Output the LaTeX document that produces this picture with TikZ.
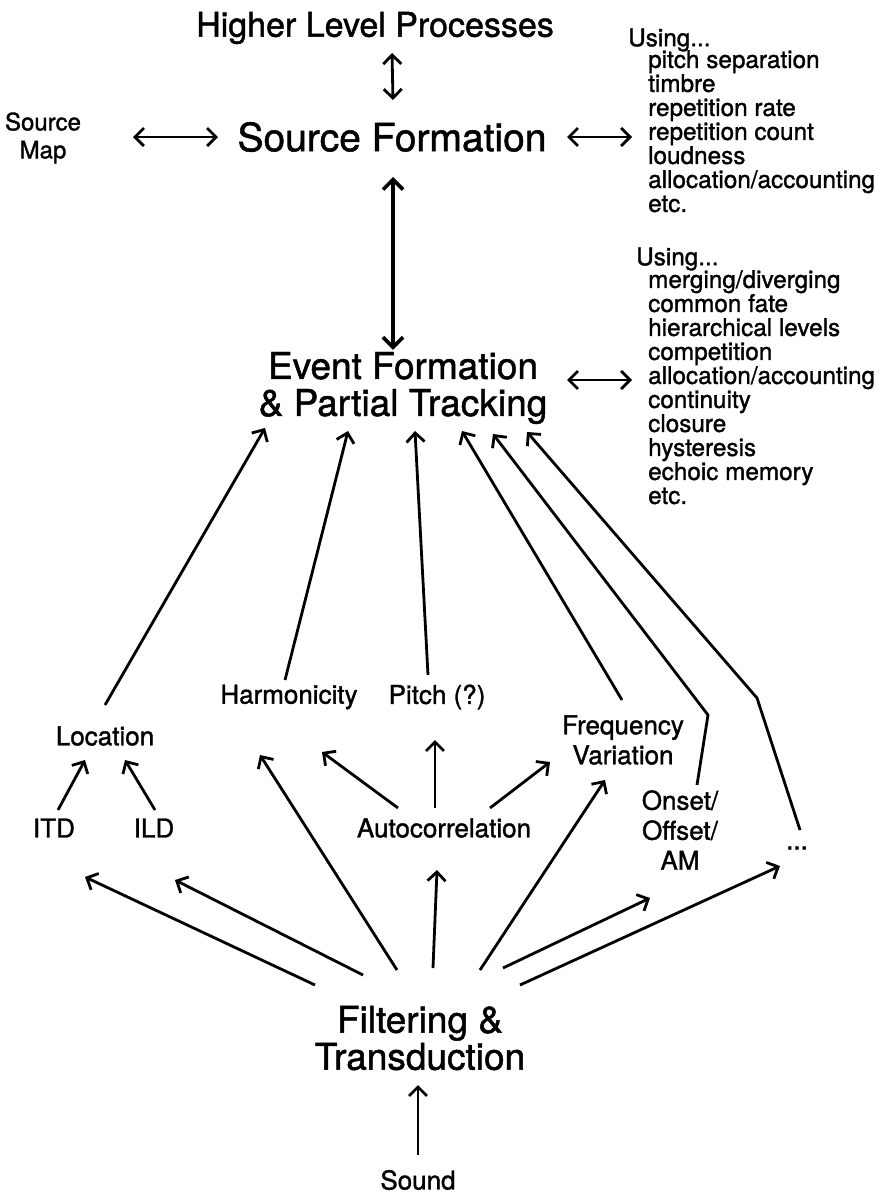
\documentclass[tikz,border=0pt]{standalone}
\usepackage{fontspec}
\setmainfont{TeX Gyre Heros}[FakeBold=1.3]
\usetikzlibrary{arrows.meta,calc}
\newcommand{\fsz}[2]{\fontsize{#1}{#2}\selectfont}
\tikzset{
  lbl/.style={inner sep=0pt, align=center},
  big/.style={lbl, font=\fsz{37}{37}},
  mid/.style={lbl, font=\fsz{26}{30}},
  lst/.style={inner sep=0pt, align=left, font=\fsz{24.3}{24}},
  arr/.style={line width=2.8pt, line join=round, >={Straight Barb[length=9pt,width=18pt,line width=2.8pt]}, ->},
  darr/.style={line width=2.8pt, >={Straight Barb[length=9pt,width=18pt,line width=2.8pt]}, <->},
  tarr/.style={line width=4.3pt, >={Straight Barb[length=10pt,width=20pt,line width=3.7pt]}, <->}
}
\begin{document}
\begin{tikzpicture}[x=1pt,y=-1pt]
\useasboundingbox (0,0) rectangle (887,1197);
% nodes
\node[lbl, font=\fsz{34}{34}] (hlp) at (375,28) {Higher Level Processes};
\node[lbl, font=\fsz{39}{39}] (sf) at (392,137) {Source Formation};
\node[lbl, font=\fsz{24}{28}] (smap) at (43,138) {Source\\Map};
\node[lst, anchor=west] (u1) at (628,40) {Using...};
\node[lst, anchor=north west] (l1) at (648,50) {pitch separation\\timbre\\repetition rate\\repetition count\\loudness\\allocation/accounting\\etc.};
\node[big] (ef) at (403,388) {Event Formation\\\& Partial Tracking};
\node[lst, anchor=west] (u2) at (636,259) {Using...};
\node[lst, anchor=north west] (l2) at (648,270) {merging/diverging\\common fate\\hierarchical levels\\competition\\allocation/accounting\\continuity\\closure\\hysteresis\\echoic memory\\etc.};
\node[mid] (loc) at (105,736) {Location};
\node[mid] (harm) at (289,697) {Harmonicity};
\node[mid] (pitch) at (437,697) {Pitch (?)};
\node[mid] (fv) at (623,740) {Frequency\\Variation};
\node[mid] (itd) at (54,828) {ITD};
\node[mid] (ild) at (154,828) {ILD};
\node[mid] (auto) at (444,828) {Autocorrelation};
\node[mid] (onset) at (680,830) {Onset/\\Offset/\\AM};
\node[mid] (dots) at (797,848) {...};
\node[big] (filt) at (420,1038) {Filtering \&\\Transduction};
\node[mid] (sound) at (418,1180) {Sound};
% top connectors
\draw[darr] ($(hlp)+(17,25)$) -- ($(sf)+(1,-37)$);
\draw[darr] ($(smap)+(90,-1)$) -- ($(sf)+(-174,0)$);
\draw[darr] ($(sf)+(175,0)$) -- ($(sf -| l1.west)+(-16,0)$);
\draw[tarr] ($(sf)+(1,40)$) -- ($(ef.north)+(-10,-2)$);
\draw[darr] ($(ef)+(164,-8)$) -- ($(ef -| l2.west)+(-16,-8)$);
% from filtering
\draw[arr] ($(sound)+(0,-25)$) -- ($(filt)+(-2,47)$);
\draw[arr] ($(filt)+(-105,-53)$) -- ($(itd)+(31,49)$);
\draw[arr] ($(filt)+(-57,-63)$) -- ($(ild)+(21,52)$);
\draw[arr] ($(filt)+(-23,-68)$) -- ($(harm)+(-29,58)$);
\draw[arr] ($(filt)+(13,-70)$) -- ($(auto)+(-7,42)$);
\draw[arr] ($(filt)+(60,-68)$) -- ($(fv)+(-18,40)$);
\draw[arr] ($(filt)+(83,-70)$) -- ($(onset)+(-30,68)$);
\draw[arr] ($(filt)+(100,-53)$) -- ($(dots)+(-17,18)$);
% from autocorrelation
\draw[arr] ($(auto)+(-46,-20)$) -- ($(harm)+(33,55)$);
\draw[arr] ($(auto)+(-9,-20)$) -- ($(pitch)+(-2,43)$);
\draw[arr] ($(auto)+(46,-20)$) -- ($(fv)+(-73,22)$);
% to location
\draw[arr] ($(itd)+(4,-18)$) -- ($(loc)+(-20,24)$);
\draw[arr] ($(ild)+(1,-18)$) -- ($(loc)+(20,24)$);
% to event formation
\draw[arr] ($(loc)+(0,-31)$) -- ($(ef)+(-138,40)$);
\draw[arr] ($(harm)+(-4,-17)$) -- ($(ef)+(-55,43)$);
\draw[arr] ($(pitch)+(-9,-22)$) -- ($(ef)+(12,43)$);
\draw[arr] ($(fv)+(-1,-40)$) -- ($(ef)+(59,43)$);
\draw[arr] ($(onset)+(17,-45)$) -- ($(onset)+(28,-115)$) -- ($(ef)+(90,46)$);
\draw[arr] ($(dots)+(3,-18)$) -- ($(dots)+(-40,-150)$) -- ($(ef)+(124,44)$);
\end{tikzpicture}
\end{document}
